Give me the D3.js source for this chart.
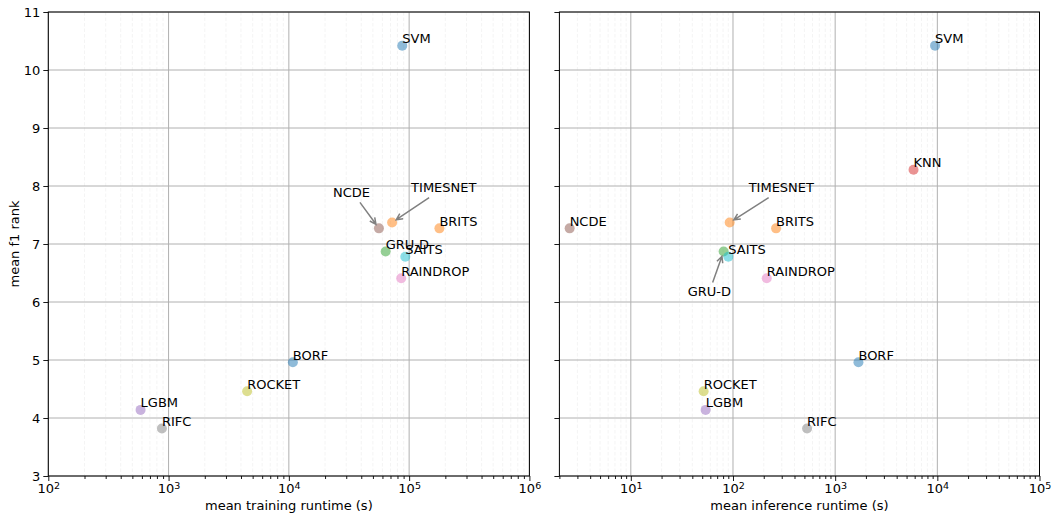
<!DOCTYPE html>
<html>
<head>
<meta charset="utf-8">
<script src="https://cdn.jsdelivr.net/npm/d3@7"></script>
<style>
  body { margin: 0; background: #fff; }
  text { font-family: "DejaVu Sans", sans-serif; fill: #000; }
</style>
</head>
<body>
<svg width="1054" height="518"></svg>
<script>
// models in alphabetical order (colour cycle follows this order)
var models = ["BORF", "BRITS", "GRU-D", "KNN", "LGBM", "NCDE", "RAINDROP", "RIFC", "ROCKET", "SAITS", "SVM", "TIMESNET"];
var f1Rank = [4.96, 7.27, 6.87, 8.28, 4.14, 7.27, 6.41, 3.82, 4.46, 6.78, 10.42, 7.37];
var trainRuntime = [10800, 178600, 63800, null, 585, 56100, 85900, 880, 4500, 92900, 87700, 72200];
var inferRuntime = [1690, 264, 81, 5850, 54, 2.52, 214, 531, 51.6, 90, 9500, 92.8];

var yTicks = [3, 4, 5, 6, 7, 8, 9, 10, 11];

// labels that get an arrow instead of sitting next to the dot (offsets in px)
var arrowNotes = [
  {panel: 0, model: "NCDE", tx: -46, ty: -31, ax: -19, ay: -26},
  {panel: 0, model: "TIMESNET", tx: 19, ty: -31, ax: 37, ay: -25},
  {panel: 1, model: "TIMESNET", tx: 19, ty: -31, ax: 39, ay: -25},
  {panel: 1, model: "GRU-D", tx: -36, ty: 44, ax: -11, ay: 31}
];

var svg = d3.select("svg");
var color = d3.scaleOrdinal(d3.schemeCategory10);

var plotTop = 12, plotBottom = 476;
var y = d3.scaleLinear().domain([3, 11]).range([plotBottom, plotTop]);

var panels = [
  {x0: 48.3, x1: 529.4, domain: [1e2, 1e6], values: trainRuntime, label: "mean training runtime (s)"},
  {x0: 559.4, x1: 1039.5, domain: [2, 1e5], values: inferRuntime, label: "mean inference runtime (s)"}
];

var pts = models.map(function(m, i) { return {name: m, rank: f1Rank[i], c: color(m)}; });

panels.forEach(function(p, pi) {
  var x = d3.scaleLog().domain(p.domain).range([p.x0, p.x1]);
  var g = svg.append("g");

  var lo = Math.floor(Math.log10(p.domain[0])), hi = Math.ceil(Math.log10(p.domain[1]));
  var majors = [], minors = [];
  for (var e = lo; e <= hi; e++) {
    var b = Math.pow(10, e);
    if (b >= p.domain[0] && b <= p.domain[1]) majors.push(b);
    for (var k = 2; k < 10; k++) {
      var v = k * b;
      if (v >= p.domain[0] && v <= p.domain[1]) minors.push(v);
    }
  }

  // grid
  g.append("g").selectAll("line").data(minors).enter().append("line")
      .attr("x1", function(d) { return x(d); }).attr("x2", function(d) { return x(d); })
      .attr("y1", plotTop).attr("y2", plotBottom)
      .attr("stroke", "#b0b0b0").attr("stroke-opacity", 0.18)
      .attr("stroke-width", 0.8).attr("stroke-dasharray", "3.5,2");
  g.append("g").selectAll("line").data(majors).enter().append("line")
      .attr("x1", function(d) { return x(d); }).attr("x2", function(d) { return x(d); })
      .attr("y1", plotTop).attr("y2", plotBottom)
      .attr("stroke", "#b0b0b0").attr("stroke-width", 1);
  g.append("g").selectAll("line").data(yTicks).enter().append("line")
      .attr("x1", p.x0).attr("x2", p.x1)
      .attr("y1", function(d) { return y(d); }).attr("y2", function(d) { return y(d); })
      .attr("stroke", "#b0b0b0").attr("stroke-width", 1);

  // axes
  var xAxis = g.append("g").attr("transform", "translate(0," + plotBottom + ")")
      .call(d3.axisBottom(x).tickValues(majors).tickSize(5).tickPadding(3).tickFormat(function() { return ""; }));
  xAxis.selectAll(".tick text").each(function(d) {
    var t = d3.select(this).attr("font-size", 13).attr("font-family", "DejaVu Sans");
    t.append("tspan").text("10");
    t.append("tspan").attr("dy", "-0.45em").attr("font-size", 9.5).text(Math.round(Math.log10(d)));
  });
  g.append("g").attr("transform", "translate(0," + plotBottom + ")")
      .call(d3.axisBottom(x).tickValues(minors).tickSize(3).tickFormat(""));

  var yAxis = g.append("g").attr("transform", "translate(" + p.x0 + ",0)")
      .call(d3.axisLeft(y).tickValues(yTicks).tickSize(5).tickPadding(3)
        .tickFormat(pi === 0 ? d3.format("d") : function() { return ""; }));
  yAxis.selectAll("text").attr("font-size", 13).attr("font-family", "DejaVu Sans");

  svg.selectAll(".domain").remove();
  g.selectAll(".tick line").attr("stroke", "#000").attr("stroke-width", 0.9);

  g.append("rect").attr("x", p.x0).attr("y", plotTop)
      .attr("width", p.x1 - p.x0).attr("height", plotBottom - plotTop)
      .attr("fill", "none").attr("stroke", "#000").attr("stroke-width", 1);

  g.append("text").attr("x", (p.x0 + p.x1) / 2).attr("y", 510)
      .attr("text-anchor", "middle").attr("font-size", 13).text(p.label);

  // points
  var data = pts.map(function(d, i) { return {name: d.name, rank: d.rank, c: d.c, t: p.values[i]}; })
      .filter(function(d) { return d.t != null; });

  g.append("g").selectAll("circle").data(data).enter().append("circle")
      .attr("cx", function(d) { return x(d.t); })
      .attr("cy", function(d) { return y(d.rank); })
      .attr("r", 5)
      .attr("fill", function(d) { return d.c; })
      .attr("fill-opacity", 0.5);

  var notes = arrowNotes.filter(function(n) { return n.panel === pi; });
  var noted = notes.map(function(n) { return n.model; });

  g.append("g").selectAll("text").data(data.filter(function(d) { return noted.indexOf(d.name) < 0; }))
    .enter().append("text")
      .attr("x", function(d) { return x(d.t); })
      .attr("y", function(d) { return y(d.rank) - 2.5; })
      .attr("font-size", 13)
      .text(function(d) { return d.name; });

  notes.forEach(function(n) {
    var d = data.filter(function(q) { return q.name === n.model; })[0];
    var px = x(d.t), py = y(d.rank);
    g.append("text").attr("x", px + n.tx).attr("y", py + n.ty)
        .attr("font-size", 13).text(n.model);
    var sx = px + n.ax, sy = py + n.ay;
    var len = Math.hypot(n.ax, n.ay), ux = n.ax / len, uy = n.ay / len;
    var ex = px + ux * 5, ey = py + uy * 5;
    var ang = Math.atan2(-uy, -ux), hl = 7, hw = 0.45;
    var h1x = ex - hl * Math.cos(ang - hw), h1y = ey - hl * Math.sin(ang - hw);
    var h2x = ex - hl * Math.cos(ang + hw), h2y = ey - hl * Math.sin(ang + hw);
    g.append("path")
        .attr("d", "M" + sx + "," + sy + "L" + ex + "," + ey +
                   "M" + h1x + "," + h1y + "L" + ex + "," + ey + "L" + h2x + "," + h2y)
        .attr("fill", "none").attr("stroke", "#808080").attr("stroke-width", 1.5);
  });
});

svg.append("text")
    .attr("transform", "translate(19," + ((plotTop + plotBottom) / 2) + ") rotate(-90)")
    .attr("text-anchor", "middle").attr("font-size", 13).text("mean f1 rank");
</script>
</body>
</html>
